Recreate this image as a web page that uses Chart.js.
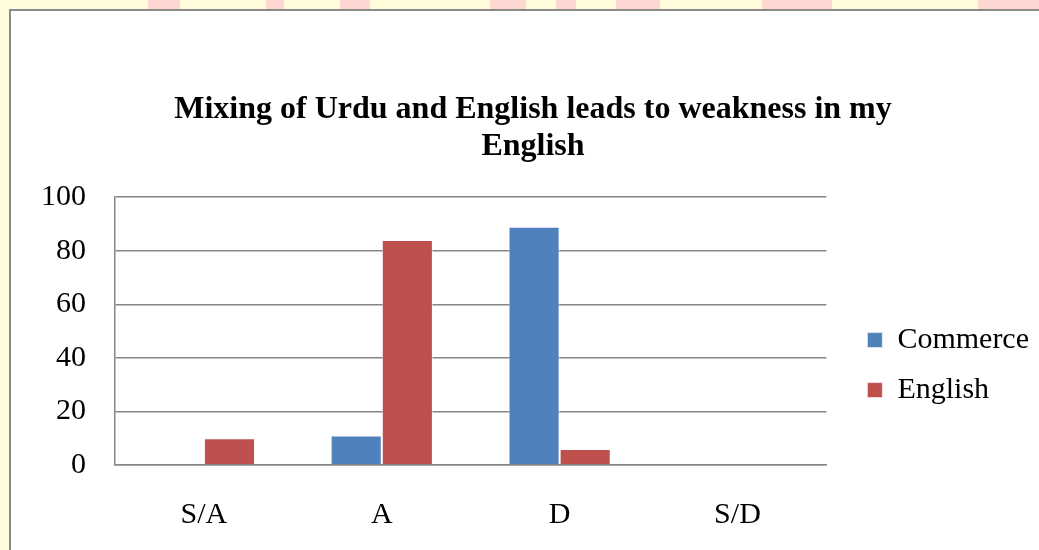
<!DOCTYPE html>
<html>
<head>
<meta charset="utf-8">
<script src="https://cdn.jsdelivr.net/npm/chart.js@4"></script>
<style>
  html, body { margin: 0; padding: 0; overflow: hidden; }
  body { width: 1039px; height: 550px; background: #fffcdc; position: relative; }
  .pink { position: absolute; top: 0; height: 9px; background: #ffd7d2; }
  #box {
    position: absolute; left: 9px; top: 9px; right: 0; bottom: 0;
    background: #fff; border-left: 2px solid #8a8a8a; border-top: 2px solid #8a8a8a;
  }
  #wrap { position: absolute; left: 0; top: 0; width: 1028px; height: 539px; }
</style>
</head>
<body>
<div class="pink" style="left:148px;width:32px"></div>
<div class="pink" style="left:266px;width:18px"></div>
<div class="pink" style="left:340px;width:30px"></div>
<div class="pink" style="left:490px;width:36px"></div>
<div class="pink" style="left:556px;width:20px"></div>
<div class="pink" style="left:616px;width:44px"></div>
<div class="pink" style="left:762px;width:70px"></div>
<div class="pink" style="left:978px;width:61px"></div>
<div id="box">
  <div id="wrap"><canvas id="chart" width="1028" height="539"></canvas></div>
</div>
<script>
const categories = ["S/A", "A", "D", "S/D"];
const commerce = [0, 11, 89, 0];
const english = [10, 84, 6, 0];
const yTicks = [0, 20, 40, 60, 80, 100];

const serif = "'Liberation Serif', 'Times New Roman', serif";
const gridGray = "#868686";

const ctx = document.getElementById("chart").getContext("2d");
new Chart(ctx, {
  type: "bar",
  data: {
    labels: categories,
    datasets: [
      {
        label: "Commerce",
        data: commerce,
        backgroundColor: "#4f81bd",
        borderColor: "rgba(255,255,255,0.6)",
        borderWidth: 1,
      },
      {
        label: "English",
        data: english,
        backgroundColor: "#c0504d",
        borderColor: "rgba(255,255,255,0.6)",
        borderWidth: 1,
      },
    ],
  },
  options: {
    responsive: false,
    animation: false,
    layout: { padding: { left: 16, bottom: 17 } },
    datasets: {
      bar: { categoryPercentage: 0.575, barPercentage: 1 },
    },
    plugins: {
      tooltip: { enabled: false },
      title: {
        display: true,
        text: ["Mixing of Urdu and English leads to weakness in my", "English"],
        color: "#000",
        font: { family: serif, size: 32, weight: "bold", lineHeight: 1.16 },
        padding: { top: 80, bottom: 32 },
      },
      legend: {
        position: "right",
        fullSize: false,
        maxWidth: 300,
        title: { display: true, text: " ", padding: { top: 16, bottom: 16 }, font: { size: 30 } },
        labels: {
          color: "#000",
          font: { family: serif, size: 30 },
          boxWidth: 15,
          boxHeight: 15,
          padding: 20,
        },
      },
    },
    scales: {
      x: {
        afterFit: (s) => { s.height = 68; },
        grid: { display: false, drawTicks: false },
        border: { display: true, color: gridGray, width: 1.5 },
        ticks: { color: "#000", font: { family: serif, size: 30 }, padding: 32 },
      },
      y: {
        min: 0,
        max: 100,
        afterBuildTicks: (s) => { s.ticks = yTicks.map((v) => ({ value: v })); },
        afterFit: (s) => { s.width = 88; },
        grid: { color: gridGray, lineWidth: 1.5, drawTicks: false },
        border: { display: true, color: gridGray, width: 1.5 },
        ticks: { color: "#000", font: { family: serif, size: 30 }, padding: 29 },
      },
      gap: {
        type: "linear",
        position: "right",
        display: true,
        grid: { display: false, drawTicks: false },
        border: { display: false },
        ticks: { display: false },
        afterFit: (s) => { s.width = 21; },
      },
    },
  },
});
</script>
</body>
</html>
